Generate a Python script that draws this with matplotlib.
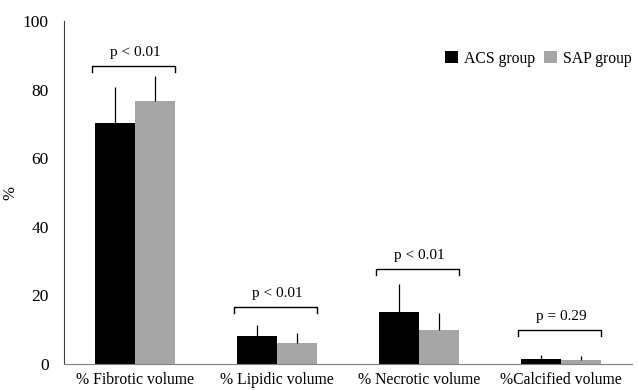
import matplotlib
matplotlib.use("Agg")
import matplotlib.pyplot as plt
import numpy as np

categories = ["% Fibrotic volume", "% Lipidic volume", "% Necrotic volume", "%Calcified volume"]
acs_mean = [70.3, 8.2, 15.1, 1.4]
acs_sd = [10.5, 3.2, 8.1, 1.2]
sap_mean = [76.7, 6.2, 9.9, 1.1]
sap_sd = [7.3, 2.7, 4.9, 1.2]
p_labels = ["p < 0.01", "p < 0.01", "p < 0.01", "p = 0.29"]
bracket_y = [87.0, 16.7, 27.7, 9.9]

plt.rcParams["font.family"] = ["Liberation Serif", "DejaVu Serif"]

fig = plt.figure(figsize=(6.38, 3.9), dpi=100)
ax = fig.add_axes([0.1003, 0.0667, 0.8903, 0.8793])

x = np.arange(len(categories))
w = 0.28
zero = [0] * len(categories)
ax.bar(x - w / 2, acs_mean, w, color="black", label="ACS group",
       yerr=[zero, acs_sd], error_kw=dict(ecolor="black", elinewidth=0.9, capsize=0))
ax.bar(x + w / 2, sap_mean, w, color="#a6a6a6", label="SAP group",
       yerr=[zero, sap_sd], error_kw=dict(ecolor="black", elinewidth=0.9, capsize=0))

# significance brackets
for xi, y, lab in zip(x, bracket_y, p_labels):
    x0, x1 = xi - w - 0.02, xi + w
    ax.plot([x0, x0, x1, x1], [y - 1.8, y, y, y - 1.8], color="black", lw=1.0)
    ax.text(xi, y + 2.0, lab, ha="center", va="bottom", fontsize=11)

ax.set_xlim(-0.5, len(categories) - 0.5)
ax.set_ylim(0, 100)
ax.set_yticks([0, 20, 40, 60, 80, 100])
ax.set_xticks(x)
ax.set_xticklabels(categories, fontsize=11.3)
ax.tick_params(axis="both", length=0)
ax.tick_params(axis="y", pad=11, labelsize=12.5)
ax.tick_params(axis="x", pad=6)
for s in ["top", "right"]:
    ax.spines[s].set_visible(False)
ax.spines["left"].set_color("#404040")
ax.spines["bottom"].set_color("#808080")
ax.set_ylabel("%", fontsize=12, labelpad=3)

ax.legend(loc="upper right", bbox_to_anchor=(1.025, 0.955), ncol=2, frameon=False,
          fontsize=11.3, handlelength=0.8, handleheight=0.8, handletextpad=0.4,
          columnspacing=0.6)

fig.savefig("out.png", dpi=100)
